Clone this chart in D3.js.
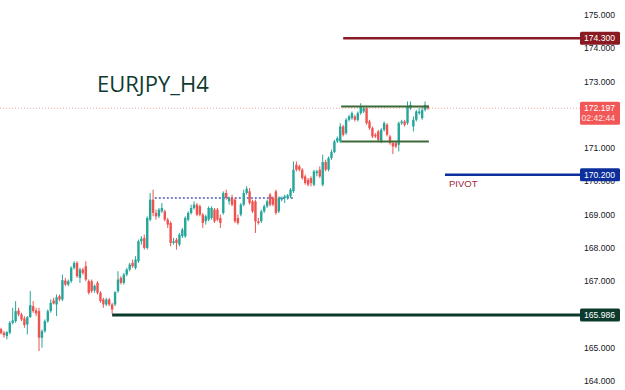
<!DOCTYPE html>
<html>
    <head>
        <meta charset="utf-8">
        <style>
            body { margin: 0; background: #fff; }
        </style>
    </head>
    <body>
        <svg width="625" height="390"></svg>
        <script src="https://d3js.org/d3.v7.min.js"></script>
        <script>
            let svg = d3.select("svg"),
                width = +svg.attr("width"),
                height = +svg.attr("height");

            // H4 candles (open, high, low, close)
            let opens = [165.56,165.45,165.35,165.45,165.75,165.8,166.12,166.0,165.88,165.7,165.92,166.25,166.12,166.1,165.3,165.5,165.8,166.1,166.42,166.3,166.55,166.45,167.02,166.9,167.0,167.4,167.55,167.1,167.35,167.45,167.0,167.0,166.72,166.95,166.65,166.45,166.3,
                166.45,166.3,166.3,166.7,167.1,166.95,167.2,167.35,167.55,167.4,167.6,168.2,168.3,168.0,168.85,169.45,169.05,168.95,169.1,169.1,168.85,168.75,168.15,168.25,168.1,168.35,168.35,168.85,169.05,169.2,169.3,169.25,169.0,168.8,
                168.85,168.9,169.15,169.15,168.9,169.05,169.65,169.4,169.5,169.45,168.9,169.0,169.3,169.65,169.7,169.4,169.4,168.8,168.8,169.1,169.25,169.6,169.5,169.7,169.1,169.45,169.5,169.5,169.55,169.7,170.5,170.45,170.35,170.15,170.05,170.1,169.9,170.25,170.35,169.9,170.58,170.35,170.7,170.88,171.2,171.2,171.65,171.45,171.85,171.9,171.95,171.85,172.05,172.1,172.2,171.8,171.6,171.4,171.5,171.2,171.55,171.7,171.35,171.15,171.15,171.1,171.75,171.8,171.75,172.2,171.65,171.85,172.05,171.9,172.15,172.25];
            let highs = [165.6,165.5,165.5,165.8,166.2,166.4,166.2,166.05,165.95,165.95,166.7,166.4,166.2,166.2,165.55,165.85,166.15,166.45,166.5,166.6,166.6,167.2,167.1,167.05,167.45,167.6,167.6,167.4,167.4,167.6,167.05,167.05,166.9,167.0,166.7,166.5,166.5,
                166.5,166.35,166.7,167.3,167.15,167.25,167.4,167.55,167.65,167.75,168.25,168.35,168.4,168.95,169.65,169.75,169.15,169.2,169.35,169.15,168.9,168.8,168.3,168.3,168.45,168.6,168.95,169.1,169.3,169.4,169.35,169.3,169.05,169.0,
                169.25,169.25,169.2,169.2,169.0,169.7,169.75,169.55,169.6,169.5,169.0,169.35,169.75,169.85,169.8,169.45,169.45,168.9,169.15,169.3,169.45,169.65,169.55,169.75,169.55,169.55,169.6,169.62,169.8,170.6,170.6,170.5,170.4,170.2,170.1,170.15,170.35,170.35,170.45,170.8,170.65,170.75,170.95,171.25,171.35,171.75,171.7,171.9,172.0,172.1,172.0,172.1,172.35,172.25,172.25,171.85,171.65,171.45,171.55,171.6,171.8,171.75,171.4,171.2,171.2,171.8,171.85,171.85,172.4,172.4,171.95,172.15,172.2,172.25,172.4,172.3];
            let lows = [165.4,165.3,165.25,165.4,165.7,165.75,165.95,165.8,165.6,165.4,165.9,166.05,165.95,164.9,165.0,165.45,165.75,166.05,166.3,165.95,166.4,166.4,166.85,166.85,166.95,167.35,167.1,166.95,167.2,167.0,166.6,166.65,166.65,166.6,166.35,166.2,166.25,
                166.25,166.02,166.25,166.65,166.9,166.9,167.15,167.3,167.4,167.35,167.55,168.1,167.95,167.95,168.8,168.95,168.85,168.9,169.05,168.8,168.6,168.05,168.1,167.95,168.05,168.3,168.3,168.8,169.0,169.15,168.95,168.95,168.6,168.7,
                168.8,168.85,168.75,168.8,168.6,169.0,169.45,169.3,169.25,168.75,168.7,168.95,169.25,169.6,169.3,169.05,168.45,168.7,168.75,169.05,169.2,169.25,169.25,169.0,169.05,169.4,169.35,169.45,169.5,169.65,170.3,170.3,170.05,169.9,169.85,169.85,169.85,170.15,170.1,169.85,170.3,170.3,170.65,170.85,171.15,171.15,171.35,171.4,171.8,171.85,171.8,171.8,172.0,172.05,171.7,171.55,171.3,171.3,171.2,171.15,171.5,171.35,171.1,170.82,171.0,170.9,171.7,171.65,171.7,172.15,171.5,171.8,172.0,171.85,172.1,172.15];
            let closes = [165.44,165.38,165.47,165.75,165.82,166.1,166.0,165.85,165.68,165.92,166.28,166.1,166.03,165.3,165.5,165.8,166.1,166.35,166.33,166.52,166.45,167.03,166.9,167.0,167.4,167.55,167.15,167.35,167.25,167.05,166.65,166.7,166.86,166.65,166.4,166.3,166.45,
                166.3,166.15,166.67,167.05,166.95,167.2,167.35,167.5,167.45,167.65,168.2,168.28,168.0,168.9,169.45,169.05,168.95,169.15,169.2,168.85,168.7,168.15,168.2,168.15,168.4,168.55,168.9,169.05,169.2,169.3,169.0,169.0,168.75,168.95,
                169.2,169.2,168.8,168.85,168.75,169.65,169.5,169.5,169.3,168.8,168.75,169.3,169.65,169.78,169.35,169.1,168.8,168.75,169.1,169.25,169.4,169.3,169.3,169.05,169.5,169.5,169.55,169.58,169.75,170.35,170.35,170.35,170.1,169.95,169.9,169.95,170.3,170.3,170.15,170.58,170.35,170.7,170.88,171.2,171.3,171.65,171.4,171.85,171.95,172.05,171.85,172.05,172.25,172.2,171.75,171.6,171.35,171.35,171.25,171.55,171.75,171.4,171.15,171.05,171.05,171.75,171.8,171.7,172.25,172.3,171.85,172.1,172.1,172.15,172.3,172.197];

            // 166 and 172 sit under the axis tags, so they are not printed
            let priceTicks = [164, 165, 167, 168, 169, 170, 171, 173, 174, 175];

            // drawn levels: price, first candle index, colour
            let levelNames = ["resistance", "pivot", "support"];
            let levelPrices = [174.3, 170.2, 165.986];
            let levelStart = [117, 151.8, 38];
            let levelColors = ["#8a1a22", "#0c2f9c", "#0c3b2d"];
            let levelWidths = [2.4, 2.4, 3];

            // range box around the last leg, and the old high marked dotted
            let boxTop = 172.25, boxBottom = 171.2, boxFrom = 116.3, boxTo = 146.3;
            let oldHigh = 169.5, oldHighFrom = 52.6, oldHighTo = 99.8;

            let lastPrice = 172.197, countdown = "02:42:44";
            let title = "EURJPY_H4";

            let plotRight = 580;
            let x = d3.scaleLinear().domain([0, closes.length - 1]).range([1, 428]);
            let y = d3.scaleLinear().domain([164, 175]).range([381, 15]);

            let up = "#26a69a", down = "#ef5350";
            let fmt = d3.format(".3f");

            // price axis labels
            svg.append("g").selectAll("text")
                .data(priceTicks)
                .enter().append("text")
                .attr("x", 615)
                .attr("y", d => y(d))
                .attr("dy", "0.35em")
                .attr("text-anchor", "end")
                .attr("font-family", "Liberation Sans, Arial, sans-serif")
                .attr("font-size", 8.6)
                .attr("fill", "#131722")
                .text(d => fmt(d));

            // last price dotted line
            svg.append("line")
                .attr("x1", 0).attr("x2", plotRight)
                .attr("y1", y(lastPrice)).attr("y2", y(lastPrice))
                .attr("stroke", "#f4a3a3")
                .attr("stroke-width", 1)
                .attr("stroke-dasharray", "1,2");

            // title
            svg.append("text")
                .attr("x", 97).attr("y", 92)
                .attr("font-family", "Open Sans, sans-serif")
                .attr("font-size", 22)
                .attr("fill", "#0e3b31")
                .text(title);

            // old high dotted
            svg.append("line")
                .attr("x1", x(oldHighFrom)).attr("x2", x(oldHighTo))
                .attr("y1", y(oldHigh)).attr("y2", y(oldHigh))
                .attr("stroke", "#4a5cc0")
                .attr("stroke-width", 1.6)
                .attr("stroke-dasharray", "2,2");

            // candles
            let candles = svg.append("g").selectAll("g")
                .data(closes)
                .enter().append("g");
            candles.append("line")
                .attr("x1", (d, i) => x(i)).attr("x2", (d, i) => x(i))
                .attr("y1", (d, i) => y(highs[i]))
                .attr("y2", (d, i) => y(lows[i]))
                .attr("stroke", (d, i) => d >= opens[i] ? up : down)
                .attr("stroke-width", 1);
            candles.append("rect")
                .attr("x", (d, i) => x(i) - 1.2)
                .attr("width", 2.4)
                .attr("y", (d, i) => y(Math.max(d, opens[i])))
                .attr("height", (d, i) => Math.max(1, Math.abs(y(d) - y(opens[i]))))
                .attr("fill", (d, i) => d >= opens[i] ? up : down);

            // range box lines
            [boxTop, boxBottom].forEach(p => {
                svg.append("line")
                    .attr("x1", x(boxFrom)).attr("x2", x(boxTo))
                    .attr("y1", y(p)).attr("y2", y(p))
                    .attr("stroke", "#3b6a36")
                    .attr("stroke-width", 2);
            });

            // horizontal levels
            levelPrices.forEach((p, k) => {
                svg.append("line")
                    .attr("x1", x(levelStart[k])).attr("x2", plotRight)
                    .attr("y1", y(p)).attr("y2", y(p))
                    .attr("stroke", levelColors[k])
                    .attr("stroke-width", levelWidths[k]);
            });
            svg.append("text")
                .attr("x", x(levelStart[1]) + 4)
                .attr("y", y(levelPrices[1]) + 12)
                .attr("font-family", "Liberation Sans, Arial, sans-serif")
                .attr("font-size", 9.5)
                .attr("fill", "#a3263a")
                .text("PIVOT");

            // label boxes on the axis
            function tag(p, color) {
                svg.append("rect")
                    .attr("x", plotRight).attr("y", y(p) - 6.5)
                    .attr("width", 40).attr("height", 13)
                    .attr("rx", 1.5)
                    .attr("fill", color);
                svg.append("text")
                    .attr("x", 615).attr("y", y(p))
                    .attr("dy", "0.35em")
                    .attr("text-anchor", "end")
                    .attr("font-family", "Liberation Sans, Arial, sans-serif")
                    .attr("font-size", 8.6)
                    .attr("fill", "#fff")
                    .text(fmt(p));
            }
            levelPrices.forEach((p, k) => tag(p, levelColors[k]));

            svg.append("rect")
                .attr("x", plotRight).attr("y", y(lastPrice) - 6.5)
                .attr("width", 40).attr("height", 23)
                .attr("rx", 1.5)
                .attr("fill", "#f25757");
            svg.append("text")
                .attr("x", 615).attr("y", y(lastPrice))
                .attr("dy", "0.35em")
                .attr("text-anchor", "end")
                .attr("font-family", "Liberation Sans, Arial, sans-serif")
                .attr("font-size", 8.6)
                .attr("fill", "#fff")
                .text(fmt(lastPrice));
            svg.append("text")
                .attr("x", 615).attr("y", y(lastPrice) + 10)
                .attr("dy", "0.35em")
                .attr("text-anchor", "end")
                .attr("font-family", "Liberation Sans, Arial, sans-serif")
                .attr("font-size", 8.6)
                .attr("fill", "#fde3e3")
                .text(countdown);
        </script>
    </body>
</html>
